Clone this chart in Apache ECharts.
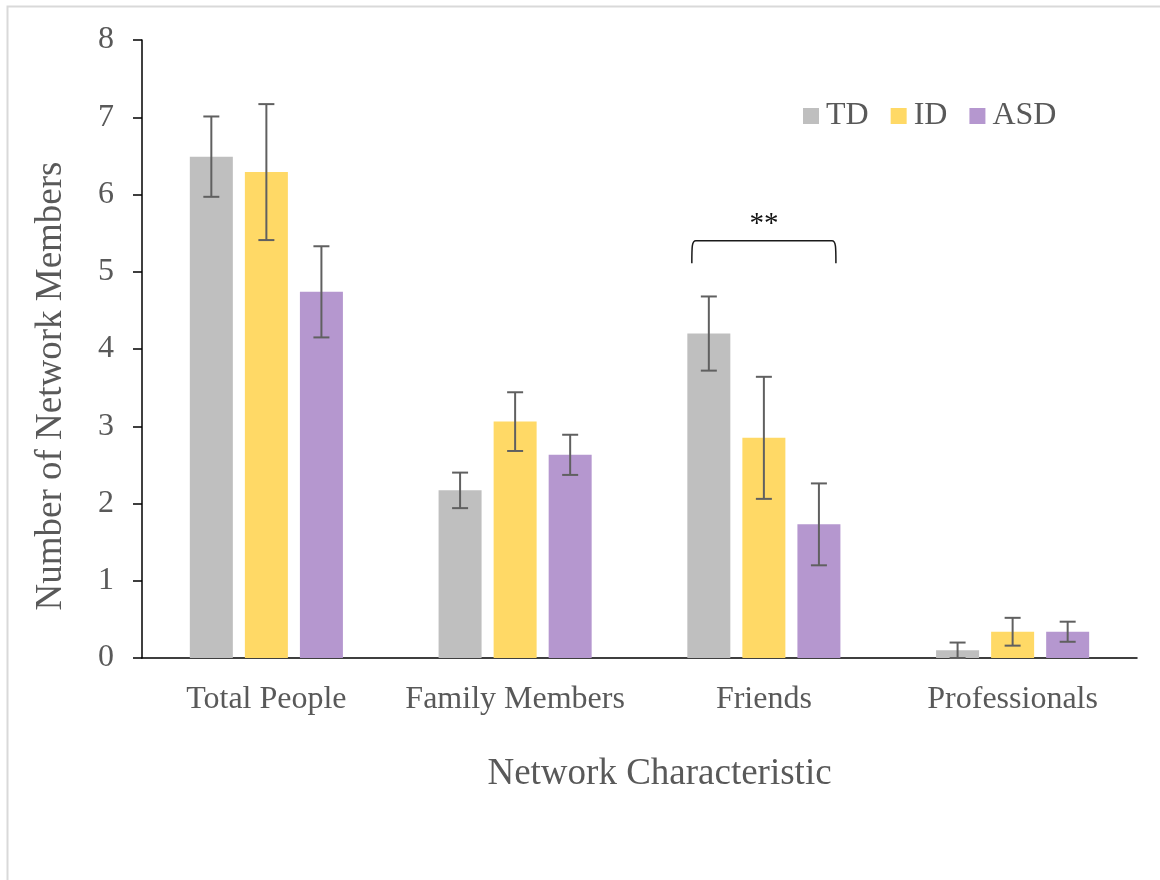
<!DOCTYPE html>
<html>
<head>
<meta charset="utf-8">
<title>Network Characteristic</title>
<script src="https://cdn.jsdelivr.net/npm/echarts@6/dist/echarts.min.js"></script>
<style>
  html, body { margin: 0; padding: 0; background: #ffffff; }
  #chart { width: 1160px; height: 880px; }
</style>
</head>
<body>
<div id="chart"></div>
<script>
// Mean number of network members per group, with standard-error whiskers
const categories = ['Total People', 'Family Members', 'Friends', 'Professionals'];
const groupNames = ['TD', 'ID', 'ASD'];

const tdMeans  = [6.49, 2.17, 4.20, 0.10];
const idMeans  = [6.29, 3.06, 2.85, 0.34];
const asdMeans = [4.74, 2.63, 1.73, 0.34];

const tdErr  = [0.52, 0.23, 0.48, 0.10];
const idErr  = [0.88, 0.38, 0.79, 0.18];
const asdErr = [0.59, 0.26, 0.53, 0.13];

const yTicks = [0, 1, 2, 3, 4, 5, 6, 7, 8];

// significance bracket over the Friends group
const sigCategory = 2;
const sigTop = 5.40;
const sigFoot = 5.11;
const sigText = '**';

const colors = ['#BFBFBF', '#FFD966', '#B597CF'];
const textColor = '#595959';
const fontFamily = '"Liberation Serif", "Times New Roman", serif';

const BAR_W = 43;
const BAR_GAP = 0.28;
const STEP = BAR_W * (1 + BAR_GAP);

const meanSets = [tdMeans, idMeans, asdMeans];
const errSets = [tdErr, idErr, asdErr];

const chart = echarts.init(document.getElementById('chart'), null, { renderer: 'canvas' });

function errorSeries(k) {
  const data = categories.map((c, i) => [i, meanSets[k][i] - errSets[k][i], meanSets[k][i] + errSets[k][i]]);
  return {
    type: 'custom',
    name: groupNames[k] + ' error',
    z: 10,
    silent: true,
    encode: { x: 0, y: [1, 2] },
    data: data,
    renderItem: function (params, api) {
      const ci = api.value(0);
      const lo = api.coord([ci, api.value(1)]);
      const hi = api.coord([ci, api.value(2)]);
      const x = lo[0] + (k - 1) * STEP;
      const cap = 8;
      const style = { stroke: '#606060', lineWidth: 2 };
      return {
        type: 'group',
        children: [
          { type: 'line', shape: { x1: x, y1: lo[1], x2: x, y2: hi[1] }, style: style },
          { type: 'line', shape: { x1: x - cap, y1: hi[1], x2: x + cap, y2: hi[1] }, style: style },
          { type: 'line', shape: { x1: x - cap, y1: lo[1], x2: x + cap, y2: lo[1] }, style: style }
        ]
      };
    }
  };
}

const barSeries = groupNames.map((name, k) => ({
  type: 'bar',
  name: name,
  data: meanSets[k],
  barWidth: BAR_W,
  barGap: (BAR_GAP * 100) + '%',
  itemStyle: { color: colors[k] },
  emphasis: { disabled: true }
}));

const bracketSeries = {
  type: 'custom',
  name: 'significance',
  silent: true,
  z: 11,
  data: [[sigCategory, sigTop, sigFoot]],
  encode: { x: 0, y: [1, 2] },
  renderItem: function (params, api) {
    const top = api.coord([api.value(0), api.value(1)]);
    const foot = api.coord([api.value(0), api.value(2)]);
    const half = STEP + BAR_W / 2 - 4.5;
    const x0 = top[0] - half;
    const x1 = top[0] + half;
    const yt = top[1];
    const yb = foot[1];
    const d = 'M' + x0 + ' ' + yb +
      ' C' + x0 + ' ' + (yt + 6) + ' ' + x0 + ' ' + yt + ' ' + (x0 + 4) + ' ' + yt +
      ' L' + (x1 - 4) + ' ' + yt +
      ' C' + x1 + ' ' + yt + ' ' + x1 + ' ' + (yt + 6) + ' ' + x1 + ' ' + yb;
    return {
      type: 'group',
      children: [
        { type: 'path', shape: { pathData: d }, style: { stroke: '#1a1a1a', lineWidth: 1.5, fill: null } },
        {
          type: 'text',
          x: top[0],
          y: yt - 2,
          style: {
            text: sigText,
            fill: '#111111',
            font: '29px ' + fontFamily,
            align: 'center',
            verticalAlign: 'bottom'
          }
        }
      ]
    };
  }
};

const option = {
  backgroundColor: '#ffffff',
  animation: false,
  textStyle: { fontFamily: fontFamily },
  graphic: [
    {
      type: 'rect',
      left: 5, top: 4,
      shape: { width: 1170, height: 890 },
      style: { fill: null, stroke: '#d9d9d9', lineWidth: 2 },
      silent: true
    }
  ],
  grid: { left: 142, right: 23, top: 40, bottom: 222, containLabel: false },
  legend: {
    data: groupNames,
    left: 803,
    top: 100,
    padding: 0,
    itemWidth: 16,
    itemHeight: 16,
    itemGap: 22,
    icon: 'rect',
    textStyle: { color: textColor, fontSize: 32, fontFamily: fontFamily, padding: [0, 0, 0, 2] },
    selectedMode: false
  },
  xAxis: {
    type: 'category',
    data: categories,
    name: 'Network Characteristic',
    nameLocation: 'middle',
    nameGap: 98,
    nameTextStyle: { color: textColor, fontSize: 37, fontFamily: fontFamily, padding: [0, 0, 0, 40] },
    axisLine: { lineStyle: { color: '#000000', width: 1.5 } },
    axisTick: { show: false },
    axisLabel: { interval: 0, color: textColor, fontSize: 32, fontFamily: fontFamily, margin: 26 },
    splitLine: { show: false }
  },
  yAxis: {
    type: 'value',
    min: yTicks[0],
    max: yTicks[yTicks.length - 1],
    interval: 1,
    name: 'Number of Network Members',
    nameLocation: 'middle',
    nameGap: 72,
    nameTextStyle: { color: textColor, fontSize: 37, fontFamily: fontFamily, padding: [0, 74, 0, 0] },
    axisLine: { show: true, lineStyle: { color: '#000000', width: 1.5 } },
    axisTick: { show: true, length: 9, inside: false, lineStyle: { color: '#000000', width: 1.5 } },
    axisLabel: { color: textColor, fontSize: 32, fontFamily: fontFamily, margin: 28 },
    splitLine: { show: false }
  },
  series: barSeries.concat([errorSeries(0), errorSeries(1), errorSeries(2), bracketSeries])
};

chart.setOption(option);
</script>
</body>
</html>
